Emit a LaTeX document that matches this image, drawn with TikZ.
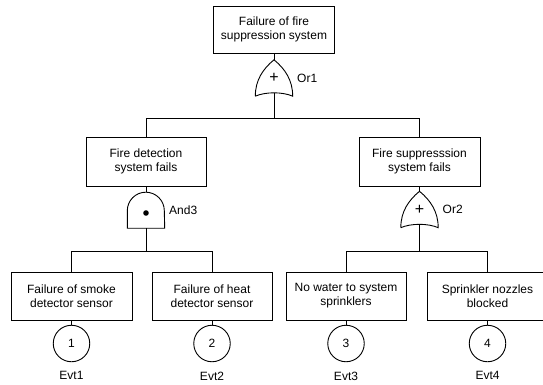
\documentclass[tikz,border=0pt]{standalone}
\usepackage{fontspec}
\setmainfont{Liberation Sans}

\begin{document}
\begin{tikzpicture}[
    x=1pt, y=1pt,
    every node/.style={font=\fontsize{12}{13.8}\selectfont, align=center},
    event/.style={rectangle, draw, line width=0.9pt, minimum width=120pt, minimum height=48pt, inner sep=2pt},
    basic/.style={circle, draw, line width=0.9pt, minimum size=36.5pt, inner sep=0pt},
    gatebox/.style={rectangle, minimum width=37pt, minimum height=36pt, inner sep=0pt},
    gatename/.style={label distance=1pt, font=\fontsize{12}{13.8}\selectfont},
    gatesign/.style={font=\fontsize{16}{16}\selectfont},
    link/.style={line width=0.9pt}
]
\useasboundingbox (0,0) rectangle (543,-385);

% Top event
\node[event, minimum width=121pt, minimum height=47pt] (top) at (274,-29.5) {Failure of fire\\suppression system};
\node[gatebox, gatesign, label={[gatename]right:Or1}] (or1) at (274,-78) {+};
\draw[link] (or1.south west) .. controls +(0,16) and +(-11,-9) .. (or1.north)
    .. controls +(11,-9) and +(0,16) .. (or1.south east)
    .. controls +(-10,4.5) and +(10,4.5) .. (or1.south west);
\draw[link] (top.south) -- (or1.north);

% Second level
\coordinate (j1) at (274,-118);
\node[event, minimum height=49pt] (fdet) at (146,-161.5) {Fire detection\\system fails};
\node[event, minimum width=121pt, minimum height=49pt] (fsup) at (419.5,-161.5) {Fire suppresssion\\system fails};

\draw[link] (or1.south) ++(0,3.4) -- (j1);
\draw[link] (j1) -| (fdet.north);
\draw[link] (j1) -| (fsup.north);

% And gate under detection
\node[gatebox, label={[gatename]right:And3}] (and3) at (146,-210) {};
\draw[link] (and3.south west) -- ++(0,17.5) arc[start angle=180, end angle=0, radius=18.5] -- (and3.south east) -- cycle;
\fill (and3.center) ++(0,-3) circle[radius=2.8];
\draw[link] (fdet.south) -- (and3.north);

% Or gate under suppression
\node[gatebox, gatesign, label={[gatename]right:Or2}] (or2) at (419.5,-209.5) {+};
\draw[link] (or2.south west) .. controls +(0,16) and +(-11,-9) .. (or2.north)
    .. controls +(11,-9) and +(0,16) .. (or2.south east)
    .. controls +(-10,4.5) and +(10,4.5) .. (or2.south west);
\draw[link] (fsup.south) -- (or2.north);

% Basic events
\coordinate (j2) at (146,-251.7);
\coordinate (j3) at (419.5,-251.7);
\node[event, minimum width=121pt] (smoke) at (71.5,-296) {Failure of smoke\\detector sensor};
\node[event] (heat) at (212,-296) {Failure of heat\\detector sensor};
\node[event] (water) at (346,-296) {No water to system\\sprinklers};
\node[event, minimum width=121pt] (nozzle) at (487.5,-296) {Sprinkler nozzles\\blocked};

\draw[link] (and3.south) -- (j2);
\draw[link] (j2) -| (smoke.north);
\draw[link] (j2) -| (heat.north);
\draw[link] (or2.south) ++(0,3.4) -- (j3);
\draw[link] (j3) -| (water.north);
\draw[link] (j3) -| (nozzle.north);

\node[basic, label={[label distance=6pt]below:Evt1}] (e1) at (71.5,-343.5) {1};
\node[basic, label={[label distance=6pt]below:Evt2}] (e2) at (212,-343.5) {2};
\node[basic, label={[label distance=6pt]below:Evt3}] (e3) at (346,-343.5) {3};
\node[basic, label={[label distance=6pt]below:Evt4}] (e4) at (487.5,-343.5) {4};

\draw[link] (smoke.south) -- (e1.north);
\draw[link] (heat.south) -- (e2.north);
\draw[link] (water.south) -- (e3.north);
\draw[link] (nozzle.south) -- (e4.north);
\end{tikzpicture}
\end{document}
